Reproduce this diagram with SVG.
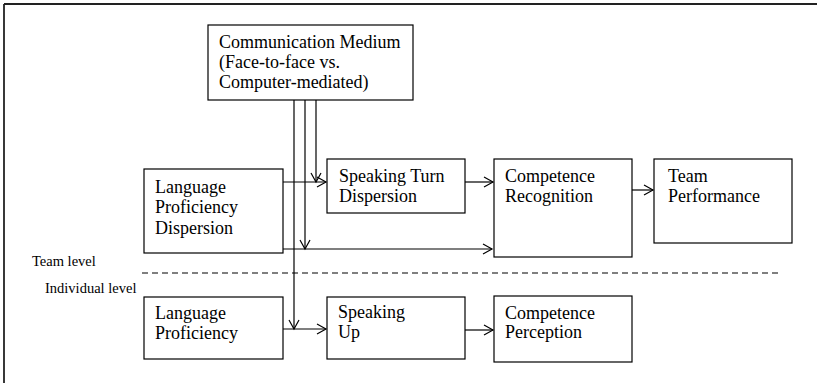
<svg xmlns="http://www.w3.org/2000/svg" width="817" height="383" viewBox="0 0 817 383">
<style>
.box{fill:#fff;stroke:#000;stroke-width:1.2}
.t{font-family:"Liberation Serif","Times New Roman",serif;font-size:18px;fill:#000}
.s{font-family:"Liberation Serif","Times New Roman",serif;font-size:14.5px;fill:#000}
.c{fill:none;stroke:#000;stroke-width:1.2}
</style>
<defs>
<marker id="a" markerWidth="12" markerHeight="12" refX="10" refY="6" orient="auto" markerUnits="userSpaceOnUse">
<polyline points="1,1 10,6 1,11" fill="none" stroke="#000" stroke-width="1.2"/>
</marker>
</defs>
<rect width="817" height="383" fill="#fff"/>
<g id="frame">
<line x1="4" y1="4" x2="817" y2="4" stroke="#222" stroke-width="1.8"/>
<line x1="4" y1="4" x2="4" y2="383" stroke="#222" stroke-width="1.8"/>
</g>
<g id="connectors">
<line class="c" x1="316" y1="100" x2="316" y2="182" marker-end="url(#a)"/>
<line class="c" x1="305" y1="100" x2="305" y2="249" marker-end="url(#a)"/>
<line class="c" x1="294" y1="100" x2="294" y2="329" marker-end="url(#a)"/>
<line class="c" x1="283" y1="182" x2="326" y2="182" marker-end="url(#a)"/>
<line class="c" x1="281" y1="249" x2="492" y2="249" marker-end="url(#a)"/>
<line class="c" x1="465" y1="182" x2="493" y2="182" marker-end="url(#a)"/>
<line class="c" x1="632" y1="190" x2="653" y2="190" marker-end="url(#a)"/>
<line class="c" x1="283" y1="329" x2="326" y2="329" marker-end="url(#a)"/>
<line class="c" x1="465" y1="330" x2="493" y2="330" marker-end="url(#a)"/>
<line x1="142" y1="273" x2="780" y2="273" stroke="#000" stroke-width="1.2" stroke-dasharray="6,4"/>
</g>
<g id="cm">
<rect class="box" x="208" y="25" width="205" height="75"/>
<text class="t" x="219" y="48">Communication Medium</text>
<text class="t" x="219" y="68">(Face-to-face vs.</text>
<text class="t" x="219" y="88">Computer-mediated)</text>
</g>
<g id="lpd">
<rect class="box" x="144" y="169" width="139" height="84"/>
<text class="t" x="155" y="193">Language</text>
<text class="t" x="155" y="213">Proficiency</text>
<text class="t" x="155" y="234">Dispersion</text>
</g>
<g id="std">
<rect class="box" x="327" y="159" width="138" height="54"/>
<text class="t" x="339" y="182">Speaking Turn</text>
<text class="t" x="339" y="202">Dispersion</text>
</g>
<g id="cr">
<rect class="box" x="494" y="159" width="138" height="98"/>
<text class="t" x="505" y="182">Competence</text>
<text class="t" x="505" y="202">Recognition</text>
</g>
<g id="tp">
<rect class="box" x="654" y="159" width="138" height="84"/>
<text class="t" x="668" y="182">Team</text>
<text class="t" x="668" y="202">Performance</text>
</g>
<g id="labels">
<text class="s" x="32" y="266">Team level</text>
<text class="s" x="45" y="293">Individual level</text>
</g>
<g id="lp">
<rect class="box" x="144" y="297" width="139" height="62"/>
<text class="t" x="155" y="319">Language</text>
<text class="t" x="155" y="339">Proficiency</text>
</g>
<g id="su">
<rect class="box" x="327" y="297" width="138" height="62"/>
<text class="t" x="338" y="318">Speaking</text>
<text class="t" x="338" y="338">Up</text>
</g>
<g id="cp">
<rect class="box" x="494" y="296" width="138" height="66"/>
<text class="t" x="505" y="319">Competence</text>
<text class="t" x="505" y="338">Perception</text>
</g>
</svg>
